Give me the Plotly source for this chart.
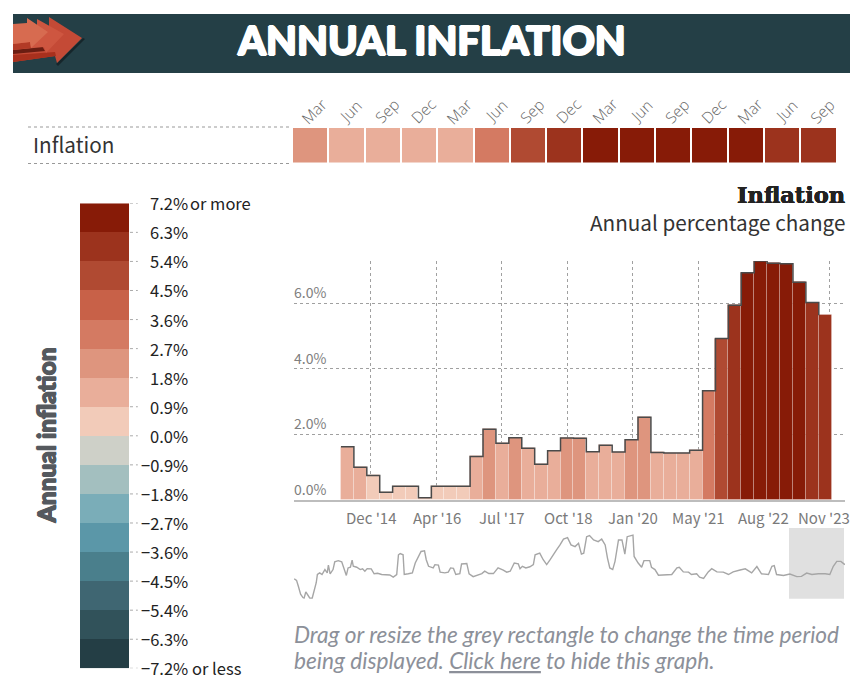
import plotly.graph_objects as go

# The page keeps an 8px body margin, so the figure sits 8px in from the window's corner.
PAGE_MARGIN = 8
W, H = 858 - PAGE_MARGIN, 687 - 2 * PAGE_MARGIN

# ---- data ----
quarters_main = ["Mar 14","Jun 14","Sep 14","Dec 14","Mar 15","Jun 15","Sep 15","Dec 15","Mar 16","Jun 16",
                 "Sep 16","Dec 16","Mar 17","Jun 17","Sep 17","Dec 17","Mar 18","Jun 18","Sep 18","Dec 18",
                 "Mar 19","Jun 19","Sep 19","Dec 19","Mar 20","Jun 20","Sep 20","Dec 20","Mar 21","Jun 21",
                 "Sep 21","Dec 21","Mar 22","Jun 22","Sep 22","Dec 22","Mar 23","Jun 23"]
inflation = [1.62,1.00,0.75,0.24,0.42,0.42,0.07,0.42,0.42,0.42,1.33,2.16,1.73,1.90,1.58,1.09,1.50,1.89,
             1.88,1.47,1.67,1.46,1.84,2.52,1.45,1.43,1.43,1.52,3.33,4.92,5.94,6.93,7.29,7.22,7.20,6.64,6.02,5.63]
x_tick_labels = ["Dec '14","Apr '16","Jul '17","Oct '18","Jan '20","May '21","Aug '22","Nov '23"]
x_tick_pos = [1.82,6.9,11.95,17.05,22.1,27.15,32.25,37.3]
y_ticks = [0,2,4,6]
y_tick_labels = ["0.0%","2.0%","4.0%","6.0%"]

heat_months = ["Mar","Jun","Sep","Dec","Mar","Jun","Sep","Dec","Mar","Jun","Sep","Dec","Mar","Jun","Sep"]
heat_values = inflation[-15:]

legend_breaks = [7.2,6.3,5.4,4.5,3.6,2.7,1.8,0.9,0.0,-0.9,-1.8,-2.7,-3.6,-4.5,-5.4,-6.3,-7.2]
legend_labels = ["7.2%","6.3%","5.4%","4.5%","3.6%","2.7%","1.8%","0.9%","0.0%","\u22120.9%","\u22121.8%",
                 "\u22122.7%","\u22123.6%","\u22124.5%","\u22125.4%","\u22126.3%","\u22127.2%"]
legend_colors = ["#871b07","#9c331d","#b04a32","#c86148","#d47a62","#de957e","#e9ae9a","#f2cbb9",
                 "#ced0c8","#a3bfbf","#7aadb8","#5b97a8","#4a7f8c","#3f6672","#31525a","#243e45"]

spark_years = [1928.8,1929.2,1929.5,1929.9,1930.3,1930.5,1930.8,1931.2,1931.5,1931.9,1932.3,1932.6,1932.8,1933.2,1933.6,
 1934.1,1934.5,1934.7,1935.0,1935.5,1935.8,1936.4,1937.0,1937.4,1937.8,1938.1,1938.5,1938.8,1939.0,1939.6,1940.2,1940.6,
 1941.0,1941.4,1942.1,1942.6,1943.2,1943.9,1944.8,1945.3,1945.9,1946.5,1946.8,1947.1,1947.6,1947.8,1948.5,1949.2,1949.7,
 1950.2,1950.7,1951.3,1951.6,1952.0,1952.8,1953.1,1953.7,1954.0,1954.8,1955.4,1955.8,1956.3,1956.7,1957.4,1957.7,1958.6,
 1959.0,1959.7,1960.5,1961.2,1961.7,1962.4,1963.2,1964.0,1964.9,1965.5,1966.1,1966.8,1967.5,1967.8,1968.2,1968.8,1969.5,
 1970.1,1970.4,1971.2,1971.8,1972.4,1973.0,1973.5,1974.1,1974.7,1975.3,1976.0,1976.6,1977.3,1977.9,1978.4,1978.8,1979.3,
 1979.8,1980.5,1981.3,1981.9,1982.5,1982.9,1983.3,1983.8,1984.2,1984.8,1985.4,1985.9,1986.3,1987.3,1987.5,1988.2,1988.8,
 1989.2,1990.2,1990.5,1991.1,1991.7,1992.8,1994.0,1994.9,1995.3,1996.0,1996.9,1997.4,1998.3,1998.8,1999.5,2000.3,2000.9,
 2001.8,2002.9,2003.8,2004.6,2005.8,2006.7,2007.8,2008.7,2009.5,2010.7,2011.3,2011.7,2012.1,2013.3,2014.4,2015.6,2016.4,
 2017.3,2018.2,2019.3,2020.5,2021.3,2021.9,2022.5,2023.2,2023.9]
spark_values = [-0.4,-1.1,-3.5,-7.0,-8.4,-8.7,-6.0,-7.7,-8.7,-8.7,-4.9,-2.1,1.4,2.1,1.4,
 3.5,2.1,5.4,1.7,3.5,6.8,7.3,6.8,3.5,1.0,4.2,4.5,7.5,4.9,4.5,3.5,3.8,
 2.8,3.9,3.8,1.7,1.9,1.4,1.2,1.2,0.3,1.4,9.8,10.3,9.8,1.4,1.7,2.1,6.3,
 9.1,11.2,11.5,7.7,4.9,4.2,5.6,5.4,2.4,2.1,2.4,4.2,4.0,1.4,1.8,5.9,6.1,
 1.7,0.5,1.2,1.8,2.8,1.8,1.8,4.2,3.3,2.4,2.8,6.3,5.9,3.9,4.9,4.2,4.7,
 5.6,9.8,10.5,7.7,5.6,7.7,9.8,11.9,14.0,16.5,17.1,14.0,13.3,14.7,10.1,10.5,17.5,
 18.0,16.1,15.4,16.5,14.0,8.4,4.2,3.5,7.0,16.1,16.1,10.1,17.5,18.2,9.1,6.3,4.5,
 7.3,7.3,4.5,3.5,1.1,1.1,1.4,4.2,4.5,2.5,2.4,1.4,1.7,0.3,-0.25,2.5,3.9,
 2.5,2.4,1.4,2.5,3.3,3.8,2.1,4.8,1.7,1.4,4.9,5.2,1.4,1.0,1.6,0.5,0.6,
 2.0,1.4,1.7,1.7,1.4,4.9,7.0,7.0,5.6]
window_start, window_end = 2014.25, 2023.75

SANS = "Noto Sans CJK SC"
LIGHT = "Open Sans"
ITALIC = "Lato"
HEAVY = "Lato"

def px(x): return (x - PAGE_MARGIN) / W
def py(y): return 1 - (y - PAGE_MARGIN) / H

def bin_color(v):
    for i in range(len(legend_colors)):
        if v >= legend_breaks[i + 1]:
            return legend_colors[i]
    return legend_colors[-1]

def fatten(color, d):
    return f"{d}px 0 0 {color},-{d}px 0 0 {color},0 {d}px 0 {color},0 -{d}px 0 {color}"

zmin, zmax = legend_breaks[-1], legend_breaks[0]
scale = []
n = len(legend_colors)
for i, c in enumerate(reversed(legend_colors)):
    scale += [[i / n, c], [(i + 1) / n, c]]

fig = go.Figure()

fig.add_trace(go.Heatmap(z=[heat_values], x=list(range(15)), y=[0], colorscale=scale, zmin=zmin, zmax=zmax,
                         showscale=False, xgap=2, ygap=0, xaxis="x", yaxis="y", hoverinfo="skip"))
legend_mid = [(legend_breaks[i] + legend_breaks[i + 1]) / 2 for i in range(n)]
fig.add_trace(go.Heatmap(z=[[v] for v in legend_mid], x=[0], y=legend_mid, colorscale=scale, zmin=zmin, zmax=zmax,
                         showscale=False, xaxis="x2", yaxis="y2", hoverinfo="skip"))
fig.add_trace(go.Bar(x=list(range(len(inflation))), y=inflation, width=1,
                     marker=dict(color=[bin_color(v) for v in inflation],
                                 line=dict(color="rgba(255,255,255,0.22)", width=1)),
                     xaxis="x3", yaxis="y3", hoverinfo="skip"))
fig.add_trace(go.Scatter(x=[i - 0.5 for i in range(len(inflation))], y=inflation, mode="lines",
                         line=dict(shape="hv", color="#4a4a4a", width=1.5), xaxis="x3", yaxis="y3", hoverinfo="skip"))
fig.add_trace(go.Scatter(x=spark_years, y=spark_values, mode="lines", line=dict(color="#a6a6a6", width=1.4),
                         xaxis="x4", yaxis="y4", hoverinfo="skip"))

shapes = []
def rect(x0, y0, x1, y1, color):
    shapes.append(dict(type="rect", xref="paper", yref="paper", x0=px(x0), x1=px(x1), y0=py(y0), y1=py(y1),
                       fillcolor=color, line=dict(width=0), layer="below"))
def poly(pts, color):
    path = "M " + " L ".join(f"{px(a):.5f},{py(b):.5f}" for a, b in pts) + " Z"
    shapes.append(dict(type="path", xref="paper", yref="paper", path=path, fillcolor=color, line=dict(width=0), layer="above"))
def rule(x0, x1, y):
    shapes.append(dict(type="line", xref="paper", yref="paper", x0=px(x0), x1=px(x1), y0=py(y), y1=py(y),
                       line=dict(color="#999999", width=1, dash="dot")))

rect(13, 14, 850, 73, "#243f46")
rule(28, 291, 127); rule(28, 291, 163.5)

# logo arrows
poly([(83,38),(85,39),(58,66),(56,64)], "#16262b")
poly([(49,17),(82,38),(57,63),(55,56),(13,62),(13,52),(49,45)], "#c44a36")
poly([(13,48),(42,46),(45,51),(13,54)], "#6a1d12")
poly([(13,55),(55,52),(56,56),(13,62)], "#a8301d")
poly([(37,19),(64,34),(46,53),(44,47),(13,50),(13,40),(37,37)], "#ce5640")
poly([(13,44),(30,42),(31,48),(13,50)], "#b23a26")
poly([(27,18),(48,32),(31,48),(30,42),(13,44),(13,24),(27,23)], "#d76b50")

for b in legend_breaks:
    shapes.append(dict(type="line", xref="x2 domain", yref="y2", x0=1.02, x1=1.18, y0=b, y1=b,
                       line=dict(color="#aaaaaa", width=1, dash="dot")))
shapes.append(dict(type="rect", xref="x4", yref="y4 domain", x0=window_start, x1=window_end, y0=0, y1=1,
                   fillcolor="#e0e0e0", line=dict(width=0), layer="below"))

ann = []
def note(**kw):
    ann.append(dict(showarrow=False, borderpad=0, borderwidth=0, **kw))
def text(x, y, s, size, color, font=SANS, xanchor="left", yanchor="middle", weight=None, angle=0, style=None, shadow=None):
    f = dict(family=font, size=size, color=color)
    if weight: f["weight"] = weight
    if style: f["style"] = style
    if shadow: f["shadow"] = shadow
    note(xref="paper", yref="paper", x=px(x), y=py(y), text=s, font=f,
         xanchor=xanchor, yanchor=yanchor, textangle=angle, align="left")

text(431, 40, "ANNUAL INFLATION", 40, "#ffffff", font=HEAVY, xanchor="center", weight=900, shadow=fatten("#ffffff", 1))
text(33, 144, "Inflation", 20.7, "#333333")
text(845, 195, "Inflation", 22.5, "#222222", font="DejaVu Serif", xanchor="right", weight=700, shadow=fatten("#222222", 0.25))
text(845, 222, "Annual percentage change", 20.7, "#333333", xanchor="right")
text(46, 435.5, "Annual inflation", 24.5, "#55595e", font=HEAVY, xanchor="center", weight=900, angle=-90, shadow=fatten("#55595e", 0.7))
text(294, 634, "Drag or resize the grey rectangle to change the time period", 22.65, "#8c9099", font=ITALIC, style="italic")
text(294, 660, 'being displayed. <span style="text-decoration:underline">Click here</span> to hide this graph.',
     22.65, "#8c9099", font=ITALIC, style="italic")

legend_font = dict(family=SANS, size=16.5, color="#222222")
for b, l in zip(legend_breaks, legend_labels):
    note(xref="paper", yref="y2", x=px(188), y=b, text=l, xanchor="right", yanchor="middle", font=legend_font)
note(xref="paper", yref="y2", x=px(190), y=legend_breaks[0], text="or more", xanchor="left", yanchor="middle", font=legend_font)
note(xref="paper", yref="y2", x=px(192), y=legend_breaks[-1], text="or less", xanchor="left", yanchor="middle", font=legend_font)
for v, l in zip(y_ticks, y_tick_labels):
    note(xref="paper", yref="y3", x=px(294), y=v, text=l, xanchor="left", yanchor="bottom", yshift=1,
         font=dict(family=SANS, size=14, color="#808080"))
for i, m in enumerate(heat_months):
    note(xref="x", yref="paper", x=i, y=py(111), xshift=4, text=m, textangle=-45, xanchor="center", yanchor="middle",
         font=dict(family=LIGHT, size=15.5, color="#666666", weight=300))
for t, l in zip(x_tick_pos, x_tick_labels):
    # the page clips anything right of x=850, so the last label is nudged left to stay whole
    shift = -5 if t == x_tick_pos[-1] else 0
    note(xref="x3", yref="paper", x=t, y=py(517), xshift=shift, text=l, xanchor="center", yanchor="middle",
         font=dict(family=SANS, size=15, color="#7a7a7a"))

def blank(**kw):
    d = dict(visible=False, fixedrange=True)
    d.update(kw)
    return d

fig.update_layout(
    width=W, height=H, autosize=False, margin=dict(l=0, r=0, t=0, b=0, autoexpand=False), showlegend=False, bargap=0,
    paper_bgcolor="white", plot_bgcolor="rgba(0,0,0,0)",
    xaxis=blank(domain=[px(292), px(836.5)], range=[-0.5, 14.5], anchor="y"),
    yaxis=blank(domain=[py(162.5), py(128)], anchor="x"),
    xaxis2=blank(domain=[px(80), px(129)], anchor="y2"),
    yaxis2=blank(domain=[py(668.3), py(203.3)], range=[zmin, zmax], anchor="x2"),
    xaxis3=dict(domain=[px(294), px(845)], range=[-0.5 - 47/12.92, 37.5 + 13.3/12.92], tickmode="array",
                tickvals=x_tick_pos, showticklabels=False, ticks="", showgrid=True, griddash="3px,3px",
                gridcolor="#a0a0a0", gridwidth=1, zeroline=False, showline=True, linecolor="#bdbdbd", linewidth=1.5,
                anchor="y3", fixedrange=True),
    yaxis3=dict(domain=[py(500), py(261)], range=[0, 239/32.8], tickmode="array", tickvals=y_ticks, showticklabels=False,
                showgrid=True, griddash="3px,3px", gridcolor="#a0a0a0", gridwidth=1, zeroline=False, ticks="",
                anchor="x3", fixedrange=True),
    xaxis4=blank(domain=[px(294), px(845)], range=[1928.76, 2023.92], anchor="y4"),
    yaxis4=blank(domain=[py(598.7), py(528)], range=[-8.9, 21.2], anchor="x4"),
    shapes=shapes, annotations=ann,
)
fig.write_html("out.html")
